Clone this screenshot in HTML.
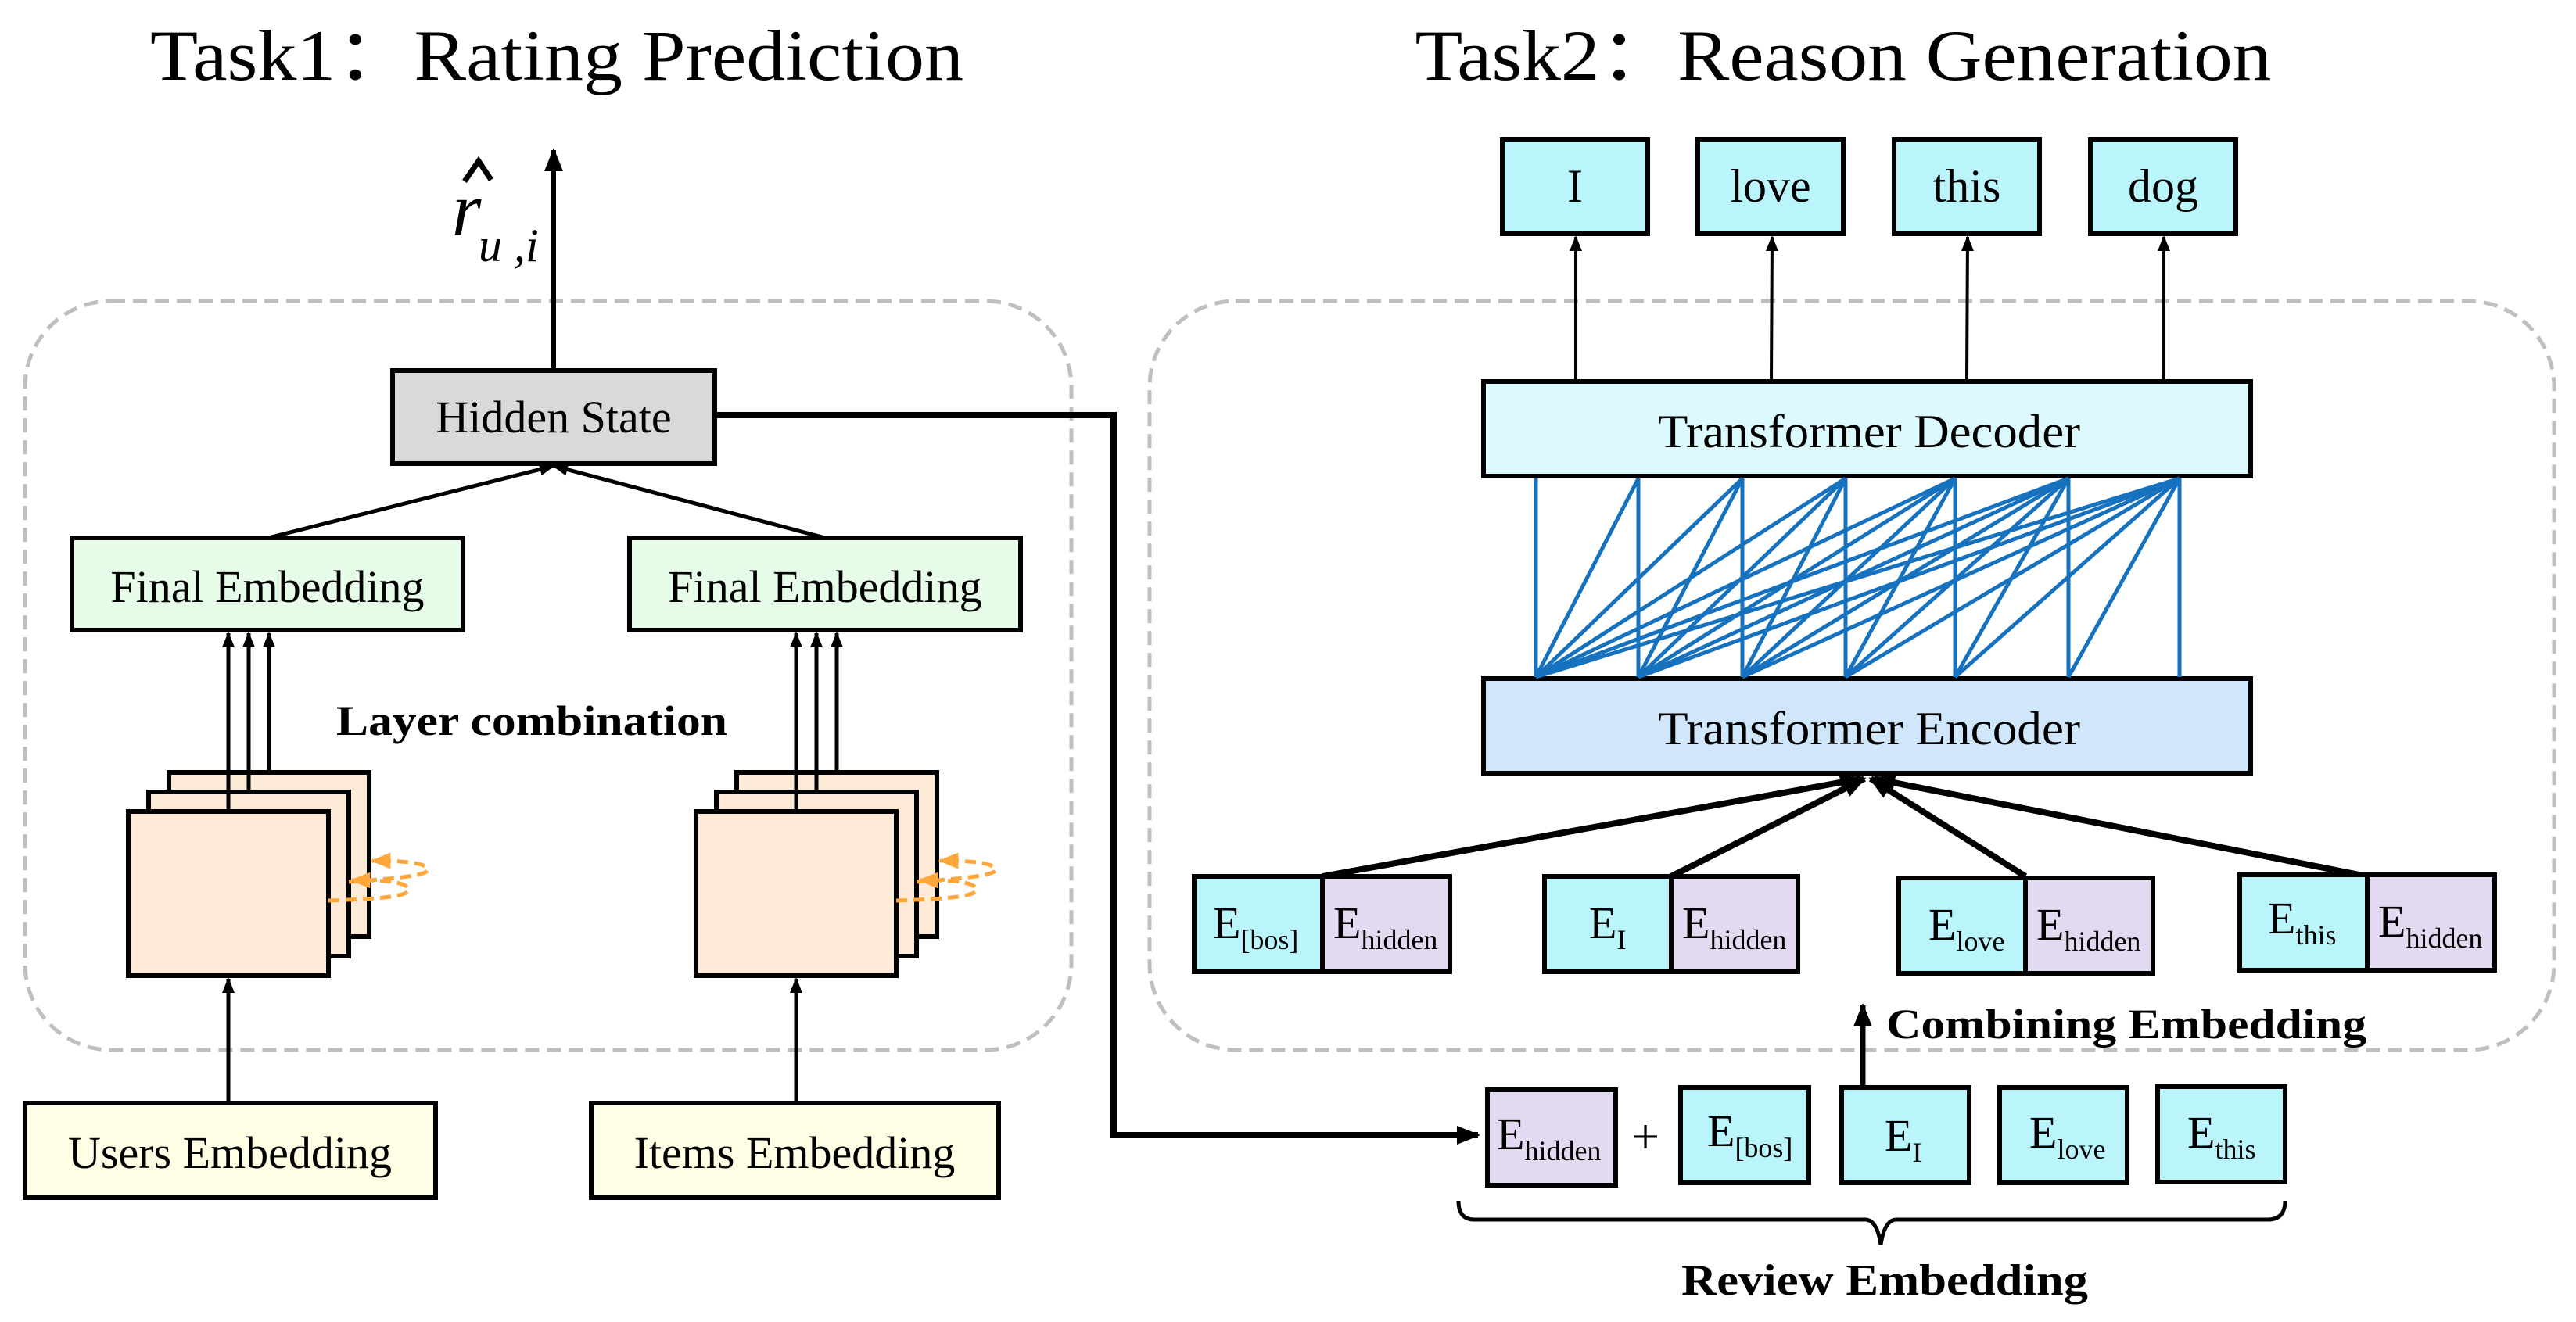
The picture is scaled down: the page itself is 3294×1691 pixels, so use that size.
<!DOCTYPE html>
<html><head><meta charset="utf-8"><style>
html,body{margin:0;padding:0;background:#fff;}
svg{display:block;}
text{font-family:"Liberation Serif",serif;fill:#000;}
</style></head><body>
<svg width="3294" height="1691" viewBox="0 0 3294 1691" xmlns="http://www.w3.org/2000/svg">
<defs>
<marker id="a" viewBox="0 0 10 10" refX="9" refY="5" markerWidth="20" markerHeight="20" orient="auto" markerUnits="userSpaceOnUse"><path d="M0,1 L10,5 L0,9 z" fill="#000"/></marker>
<marker id="ab" viewBox="0 0 10 10" refX="9" refY="5" markerWidth="30" markerHeight="30" orient="auto" markerUnits="userSpaceOnUse"><path d="M0,1 L10,5 L0,9 z" fill="#000"/></marker>
<marker id="ao" viewBox="0 0 10 10" refX="9" refY="5" markerWidth="26" markerHeight="26" orient="auto" markerUnits="userSpaceOnUse"><path d="M0,1 L10,5 L0,9 z" fill="#FFA73A"/></marker>
</defs>

<text x="712" y="102" font-size="92" text-anchor="middle" textLength="1040" lengthAdjust="spacingAndGlyphs">Task1：Rating Prediction</text>
<text x="2357" y="102" font-size="92" text-anchor="middle" textLength="1095" lengthAdjust="spacingAndGlyphs">Task2：Reason Generation</text>

<rect x="32" y="385" width="1338" height="958" rx="110" fill="none" stroke="#bfbfbf" stroke-width="5" stroke-dasharray="18,10"/>
<rect x="1470" y="385" width="1796" height="958" rx="110" fill="none" stroke="#bfbfbf" stroke-width="5" stroke-dasharray="18,10"/>

<!-- r hat -->
<text x="578" y="300" font-size="96" font-style="italic">r</text>
<path d="M594,232 L612,206 L628,230" fill="none" stroke="#000" stroke-width="7"/>
<text x="612" y="334" font-size="60" font-style="italic">u ,i</text>
<line x1="708" y1="472" x2="708" y2="192" stroke="#000" stroke-width="6" marker-end="url(#ab)"/>

<rect x="502" y="474" width="412" height="119" fill="#d9d9d9" stroke="#000" stroke-width="6"/>
<text x="708" y="553" font-size="58" text-anchor="middle">Hidden State</text>

<line x1="343" y1="688" x2="708" y2="596" stroke="#000" stroke-width="5" marker-end="url(#a)"/>
<line x1="1055" y1="688" x2="708" y2="596" stroke="#000" stroke-width="5" marker-end="url(#a)"/>
<rect x="92" y="688" width="500" height="118" fill="#e6fce8" stroke="#000" stroke-width="6"/>
<text x="342" y="770" font-size="58" text-anchor="middle">Final Embedding</text>
<rect x="805" y="688" width="500" height="118" fill="#e6fce8" stroke="#000" stroke-width="6"/>
<text x="1055" y="770" font-size="58" text-anchor="middle">Final Embedding</text>

<text x="680" y="940" font-size="54" font-weight="bold" text-anchor="middle" textLength="500" lengthAdjust="spacingAndGlyphs">Layer combination</text>

<g stroke="#000" stroke-width="6" fill="#fdebd8">
<rect x="216" y="988" width="256" height="210"/>
<rect x="190" y="1013" width="256" height="210"/>
<rect x="164" y="1038" width="256" height="210"/>
</g>
<g stroke="#000" stroke-width="5">
<line x1="292" y1="1038" x2="292" y2="810" marker-end="url(#a)"/>
<line x1="318" y1="1013" x2="318" y2="810" marker-end="url(#a)"/>
<line x1="344" y1="988" x2="344" y2="810" marker-end="url(#a)"/>
</g>
<g fill="none" stroke="#FFA73A" stroke-width="5" stroke-dasharray="14,8">
<path d="M420,1152 C470,1150 530,1148 522,1136 C515,1126 480,1126 450,1126" marker-end="url(#ao)"/>
<path d="M446,1128 C500,1124 556,1120 546,1110 C538,1102 505,1101 476,1101" marker-end="url(#ao)"/>
</g>

<g stroke="#000" stroke-width="6" fill="#fdebd8">
<rect x="942" y="988" width="256" height="210"/>
<rect x="916" y="1013" width="256" height="210"/>
<rect x="890" y="1038" width="256" height="210"/>
</g>
<g stroke="#000" stroke-width="5">
<line x1="1018" y1="1038" x2="1018" y2="810" marker-end="url(#a)"/>
<line x1="1044" y1="1013" x2="1044" y2="810" marker-end="url(#a)"/>
<line x1="1070" y1="988" x2="1070" y2="810" marker-end="url(#a)"/>
</g>
<g fill="none" stroke="#FFA73A" stroke-width="5" stroke-dasharray="14,8">
<path d="M1146,1152 C1196,1150 1256,1148 1248,1136 C1241,1126 1206,1126 1176,1126" marker-end="url(#ao)"/>
<path d="M1172,1128 C1226,1124 1282,1120 1272,1110 C1264,1102 1231,1101 1202,1101" marker-end="url(#ao)"/>
</g>

<line x1="292" y1="1411" x2="292" y2="1252" stroke="#000" stroke-width="5" marker-end="url(#a)"/>
<line x1="1018" y1="1411" x2="1018" y2="1252" stroke="#000" stroke-width="5" marker-end="url(#a)"/>
<rect x="32" y="1411" width="525" height="121" fill="#fefee4" stroke="#000" stroke-width="6"/>
<text x="294" y="1494" font-size="58" text-anchor="middle">Users Embedding</text>
<rect x="756" y="1411" width="521" height="121" fill="#fefee4" stroke="#000" stroke-width="6"/>
<text x="1016" y="1494" font-size="58" text-anchor="middle">Items Embedding</text>

<polyline points="914,531 1424,531 1424,1452 1890,1452" fill="none" stroke="#000" stroke-width="8" marker-end="url(#ab)"/>

<g stroke="#000" stroke-width="6" fill="#baf5fc">
<rect x="1921" y="178" width="186" height="121"/>
<rect x="2171" y="178" width="186" height="121"/>
<rect x="2422" y="178" width="186" height="121"/>
<rect x="2673" y="178" width="186" height="121"/>
</g>
<g font-size="60" text-anchor="middle">
<text x="2014" y="258">I</text>
<text x="2264" y="258">love</text>
<text x="2515" y="258">this</text>
<text x="2766" y="258">dog</text>
</g>
<g stroke="#000" stroke-width="4">
<line x1="2015" y1="486" x2="2015" y2="303" marker-end="url(#a)"/>
<line x1="2265" y1="486" x2="2266" y2="303" marker-end="url(#a)"/>
<line x1="2515" y1="486" x2="2516" y2="303" marker-end="url(#a)"/>
<line x1="2767" y1="486" x2="2767" y2="303" marker-end="url(#a)"/>
</g>

<rect x="1897" y="488" width="981" height="121" fill="#dcfafe" stroke="#000" stroke-width="6"/>
<text x="2390" y="572" font-size="60" text-anchor="middle" textLength="540" lengthAdjust="spacingAndGlyphs">Transformer Decoder</text>
<rect x="1897" y="868" width="981" height="121" fill="#d0e7fb" stroke="#000" stroke-width="6"/>
<text x="2390" y="952" font-size="60" text-anchor="middle" textLength="540" lengthAdjust="spacingAndGlyphs">Transformer Encoder</text>

<g stroke="#1672BE" stroke-width="5">
<line x1="1964" y1="866" x2="1964" y2="612"/><line x1="1964" y1="866" x2="2095" y2="612"/><line x1="1964" y1="866" x2="2228" y2="612"/><line x1="1964" y1="866" x2="2360" y2="612"/><line x1="1964" y1="866" x2="2500" y2="612"/><line x1="1964" y1="866" x2="2645" y2="612"/><line x1="1964" y1="866" x2="2787" y2="612"/>
<line x1="2095" y1="866" x2="2095" y2="612"/><line x1="2095" y1="866" x2="2228" y2="612"/><line x1="2095" y1="866" x2="2360" y2="612"/><line x1="2095" y1="866" x2="2500" y2="612"/><line x1="2095" y1="866" x2="2645" y2="612"/><line x1="2095" y1="866" x2="2787" y2="612"/>
<line x1="2228" y1="866" x2="2228" y2="612"/><line x1="2228" y1="866" x2="2360" y2="612"/><line x1="2228" y1="866" x2="2500" y2="612"/><line x1="2228" y1="866" x2="2645" y2="612"/><line x1="2228" y1="866" x2="2787" y2="612"/>
<line x1="2360" y1="866" x2="2360" y2="612"/><line x1="2360" y1="866" x2="2500" y2="612"/><line x1="2360" y1="866" x2="2645" y2="612"/><line x1="2360" y1="866" x2="2787" y2="612"/>
<line x1="2500" y1="866" x2="2500" y2="612"/><line x1="2500" y1="866" x2="2645" y2="612"/><line x1="2500" y1="866" x2="2787" y2="612"/>
<line x1="2645" y1="866" x2="2645" y2="612"/><line x1="2645" y1="866" x2="2787" y2="612"/>
<line x1="2787" y1="866" x2="2787" y2="612"/>
</g>

<g stroke="#000" stroke-width="8">
<line x1="1691" y1="1121" x2="2380" y2="996" marker-end="url(#ab)"/>
<line x1="2137" y1="1121" x2="2384" y2="996" marker-end="url(#ab)"/>
<line x1="2590" y1="1121" x2="2392" y2="996" marker-end="url(#ab)"/>
<line x1="3027" y1="1121" x2="2396" y2="996" marker-end="url(#ab)"/>
</g>

<g stroke="#000" stroke-width="6">
<rect x="1527" y="1121" width="164" height="122" fill="#baf5fc"/><rect x="1691" y="1121" width="163" height="122" fill="#e3daf2"/>
<rect x="1975" y="1121" width="162" height="122" fill="#baf5fc"/><rect x="2137" y="1121" width="162" height="122" fill="#e3daf2"/>
<rect x="2428" y="1123" width="162" height="122" fill="#baf5fc"/><rect x="2590" y="1123" width="163" height="122" fill="#e3daf2"/>
<rect x="2864" y="1119" width="163" height="122" fill="#baf5fc"/><rect x="3027" y="1119" width="163" height="122" fill="#e3daf2"/>
</g>
<g font-size="58">
<text x="1551" y="1200">E<tspan font-size="36" dy="14">[bos]</tspan></text>
<text x="1705" y="1200">E<tspan font-size="36" dy="14">hidden</tspan></text>
<text x="2032" y="1200">E<tspan font-size="36" dy="14">I</tspan></text>
<text x="2151" y="1200">E<tspan font-size="36" dy="14">hidden</tspan></text>
<text x="2466" y="1202">E<tspan font-size="36" dy="14">love</tspan></text>
<text x="2604" y="1202">E<tspan font-size="36" dy="14">hidden</tspan></text>
<text x="2900" y="1194">E<tspan font-size="36" dy="14">this</tspan></text>
<text x="3041" y="1198">E<tspan font-size="36" dy="14">hidden</tspan></text>
</g>

<line x1="2382" y1="1394" x2="2382" y2="1286" stroke="#000" stroke-width="7" marker-end="url(#ab)"/>
<text x="2412" y="1328" font-size="54" font-weight="bold" textLength="614" lengthAdjust="spacingAndGlyphs">Combining Embedding</text>

<g stroke="#000" stroke-width="6">
<rect x="1902" y="1394" width="164" height="122" fill="#e3daf2"/>
<rect x="2149" y="1391" width="164" height="122" fill="#baf5fc"/>
<rect x="2355" y="1391" width="163" height="122" fill="#baf5fc"/>
<rect x="2557" y="1391" width="163" height="122" fill="#baf5fc"/>
<rect x="2759" y="1390" width="163" height="122" fill="#baf5fc"/>
</g>
<text x="2104" y="1475" font-size="64" text-anchor="middle">+</text>
<g font-size="58">
<text x="1914" y="1470">E<tspan font-size="36" dy="14">hidden</tspan></text>
<text x="2183" y="1466">E<tspan font-size="36" dy="14">[bos]</tspan></text>
<text x="2410" y="1472">E<tspan font-size="36" dy="14">I</tspan></text>
<text x="2595" y="1468">E<tspan font-size="36" dy="14">love</tspan></text>
<text x="2797" y="1468">E<tspan font-size="36" dy="14">this</tspan></text>
</g>

<path d="M1865,1536 Q1865,1560 1885,1560 L2385,1560 Q2400,1560 2405,1592 Q2410,1560 2425,1560 L2900,1560 Q2922,1560 2922,1536" fill="none" stroke="#000" stroke-width="5"/>
<text x="2410" y="1656" font-size="56" font-weight="bold" text-anchor="middle" textLength="520" lengthAdjust="spacingAndGlyphs">Review Embedding</text>
</svg>
</body></html>
